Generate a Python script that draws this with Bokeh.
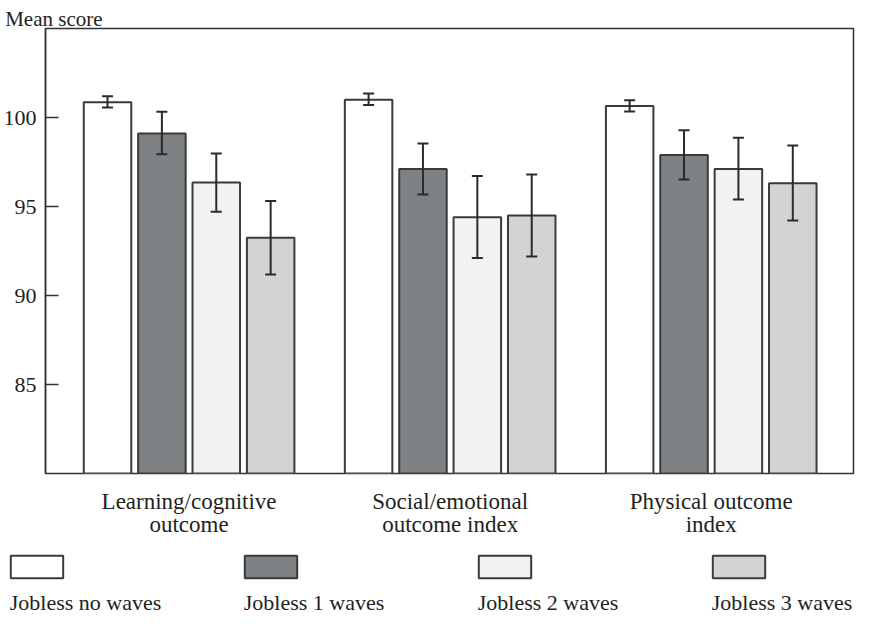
from bokeh.plotting import figure
from bokeh.models import Range1d, FixedTicker, ColumnDataSource, Whisker, TeeHead
from bokeh.layouts import column
from bokeh.core.properties import value
from bokeh.embed import file_html
from bokeh.resources import INLINE

# ---------------- data ----------------
categories = ["Learning/cognitive\noutcome", "Social/emotional\noutcome index", "Physical outcome\nindex"]
series = ["Jobless no waves", "Jobless 1 waves", "Jobless 2 waves", "Jobless 3 waves"]

no_waves = [100.85, 101.0, 100.65]
one_wave = [99.1, 97.1, 97.9]
two_waves = [96.35, 94.4, 97.1]
three_waves = [93.25, 94.5, 96.3]

no_waves_hi = [101.2, 101.35, 100.97]
no_waves_lo = [100.56, 100.7, 100.34]
one_wave_hi = [100.32, 98.54, 99.29]
one_wave_lo = [97.93, 95.68, 96.51]
two_waves_hi = [97.98, 96.72, 98.86]
two_waves_lo = [94.71, 92.1, 95.4]
three_waves_hi = [95.31, 96.8, 98.43]
three_waves_lo = [91.18, 92.19, 94.21]

y_ticks = [85, 90, 95, 100]
y_min, y_max = 80, 105

means = [no_waves, one_wave, two_waves, three_waves]
highs = [no_waves_hi, one_wave_hi, two_waves_hi, three_waves_hi]
lows = [no_waves_lo, one_wave_lo, two_waves_lo, three_waves_lo]

# ---------------- style ----------------
FONT = "Liberation Serif"
TXT = "#231f20"
EDGE = "#3a3a3a"
colors = ["#ffffff", "#7e8284", "#f1f2f1", "#d2d4d3"]
W = 855
STEP = 0.2083
BAR_W = 0.182


def no_align(fig):
    if "frame_align" in fig.properties():
        fig.frame_align = False


# ---------------- header (y label) ----------------
HH = 26
hdr = figure(width=W, height=HH, x_range=Range1d(0, W), y_range=Range1d(HH, 0),
             min_border=0, x_axis_location=None, y_axis_location=None,
             toolbar_location=None, output_backend="svg")
hdr.outline_line_color = None
hdr.grid.visible = False
hdr.text(x=[4.7], y=[18.5], text=["Mean score"], text_font=value(FONT),
         text_font_size="21px", text_baseline="alphabetic", text_align="left",
         text_color=TXT)

# ---------------- main chart ----------------
p = figure(width=W, height=520, x_range=Range1d(-0.55, 2.545), y_range=Range1d(y_min, y_max),
           min_border_left=42, min_border_right=2, min_border_top=2, min_border_bottom=73,
           toolbar_location=None, output_backend="svg")
p.xgrid.visible = False
p.ygrid.visible = False
p.outline_line_color = "#333333"
p.outline_line_width = 1.5
p.background_fill_color = "white"
p.border_fill_color = "white"

for i, s in enumerate(series):
    xs = [g + (i - 1.5) * STEP for g in range(len(categories))]
    src = ColumnDataSource(dict(x=xs, top=means[i], hi=highs[i], lo=lows[i]))
    p.vbar(x="x", top="top", bottom=y_min, width=BAR_W, source=src,
           fill_color=colors[i], line_color=EDGE, line_width=2)
    w = Whisker(source=src, base="x", upper="hi", lower="lo",
                line_color="#2b2b2b", line_width=2, level="overlay",
                upper_head=TeeHead(size=11, line_color="#2b2b2b", line_width=2),
                lower_head=TeeHead(size=11, line_color="#2b2b2b", line_width=2))
    p.add_layout(w)

ya = p.yaxis[0]
ya.ticker = FixedTicker(ticks=y_ticks)
ya.major_tick_in = 13
ya.major_tick_out = 0
ya.minor_tick_in = 0
ya.minor_tick_out = 0
ya.major_tick_line_color = "#333333"
ya.major_tick_line_width = 1.5
ya.axis_line_color = "#333333"
ya.axis_line_width = 1.5
ya.major_label_text_font = FONT
ya.major_label_text_font_size = "22px"
ya.major_label_text_color = TXT
ya.major_label_standoff = 9

xa = p.xaxis[0]
xa.ticker = FixedTicker(ticks=list(range(len(categories))))
xa.major_label_overrides = {i: c for i, c in enumerate(categories)}
xa.axis_line_color = None
xa.major_tick_line_color = None
xa.minor_tick_line_color = None
xa.major_label_text_font = FONT
xa.major_label_text_font_size = "23px"
xa.major_label_text_color = TXT
xa.major_label_text_line_height = 0.95
xa.major_label_standoff = 9

# ---------------- legend ----------------
LH = 72
leg = figure(width=W, height=LH, x_range=Range1d(0, W), y_range=Range1d(LH, 0),
             min_border=0, x_axis_location=None, y_axis_location=None,
             toolbar_location=None, output_backend="svg")
leg.outline_line_color = None
leg.grid.visible = False
LSTEP = 234.0
lefts = [10.3 + i * LSTEP for i in range(len(series))]
leg.quad(left=lefts, right=[l + 52.4 for l in lefts], top=[9.3] * 4, bottom=[31.7] * 4,
         fill_color=colors, line_color=EDGE, line_width=2)
leg.text(x=[l - 1 for l in lefts], y=[55.5] * 4, text=series, text_font=value(FONT),
         text_font_size="22px", text_baseline="alphabetic", text_align="left",
         text_color=TXT)

for f in (hdr, p, leg):
    no_align(f)

layout = column(hdr, p, leg)
open("out.html", "w").write(file_html(layout, INLINE))
